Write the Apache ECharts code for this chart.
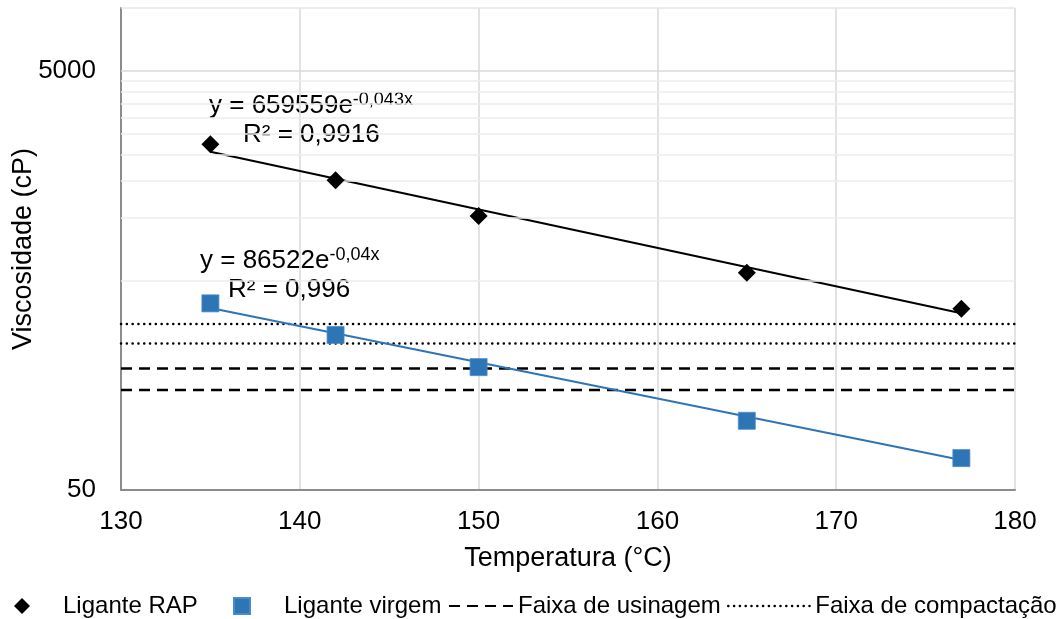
<!DOCTYPE html>
<html>
<head>
<meta charset="utf-8">
<script src="https://cdn.jsdelivr.net/npm/echarts@6/dist/echarts.min.js"></script>
<style>
  html, body { margin: 0; padding: 0; background: #ffffff; }
  #chart { width: 1064px; height: 619px; }
</style>
</head>
<body>
<div id="chart"></div>
<script>
// ---- data ----
const temperatures = [135, 142, 150, 165, 177];
const ligantRAP = [2234, 1504, 1016, 545, 367];
const ligantVirgem = [389, 275, 193, 107, 71];

// exponential trendlines (straight on log axis) - endpoints
const trendX = [135, 177];
const trendRAP = [2060, 349];
const trendVirgem = [370, 69.5];

// horizontal reference bands
const faixaUsinagem = [150, 190];
const faixaCompactacao = [250, 310];
const bandX = [130, 180];

// axis settings / tick labels
const xTicks = [130, 140, 150, 160, 170, 180];
const yLabels = [50, 5000];
const yMajorGrid = [5000];
const yMinorGrid = [500, 1000, 1500, 2000, 2500, 3000, 3500, 4000, 4500];
const yTop = [10000];

const eq1 = { main: 'y = 659559e', sup: '-0,043x', r2: 'R² = 0,9916' };
const eq2 = { main: 'y = 86522e', sup: '-0,04x', r2: 'R² = 0,996' };

const FONT = "'Liberation Sans', Arial, sans-serif";
const BLUE = '#2E75B6';

function pairs(xs, ys) { return xs.map((x, i) => [x, ys[i]]); }

const chart = echarts.init(document.getElementById('chart'), null, { renderer: 'canvas' });

const series = [];

// gridlines helper (drawn through the y scale)
series.push({
  name: '_grid', type: 'line', data: [], z: 0, silent: true,
  markLine: {
    silent: true, symbol: 'none', animation: false, label: { show: false },
    data: [
      ...yMinorGrid.map(v => ({ yAxis: v, lineStyle: { color: '#EDEDED', width: 1.5, type: 'solid' } })),
      ...yMajorGrid.map(v => ({ yAxis: v, lineStyle: { color: '#D9D9D9', width: 1.5, type: 'solid' } })),
      ...yTop.map(v => ({ yAxis: v, lineStyle: { color: '#E6E6E6', width: 1.5, type: 'solid' } }))
    ]
  }
});

// bands
faixaUsinagem.forEach(v => {
  series.push({
    name: 'Faixa de usinagem', type: 'line', symbol: 'none', z: 3,
    data: pairs(bandX, [v, v]),
    itemStyle: { color: 'rgba(0,0,0,0)' },
    lineStyle: { color: '#000', width: 2.5, type: [11, 7] }
  });
});
faixaCompactacao.forEach(v => {
  series.push({
    name: 'Faixa de compactação', type: 'line', symbol: 'none', z: 3,
    data: pairs(bandX, [v, v]),
    itemStyle: { color: 'rgba(0,0,0,0)' },
    lineStyle: { color: '#000', width: 2.5, type: [0.1, 5.7], cap: 'round' }
  });
});

// trendlines
series.push({
  name: '_trendRAP', type: 'line', symbol: 'none', z: 4,
  data: pairs(trendX, trendRAP),
  lineStyle: { color: '#000', width: 2 }
});
series.push({
  name: '_trendVirgem', type: 'line', symbol: 'none', z: 4,
  data: pairs(trendX, trendVirgem),
  lineStyle: { color: BLUE, width: 2 }
});

// points
series.push({
  name: 'Ligante RAP', type: 'scatter', symbol: 'diamond', symbolSize: 18, z: 5,
  data: pairs(temperatures, ligantRAP),
  itemStyle: { color: '#000', opacity: 1 }
});
series.push({
  name: 'Ligante virgem', type: 'scatter', symbol: 'rect', symbolSize: 17, z: 5,
  data: pairs(temperatures, ligantVirgem),
  itemStyle: { color: BLUE, opacity: 1, borderColor: '#4A8ACB', borderWidth: 0.8 }
});

const legendText = { fontSize: 24, color: '#000', fontFamily: FONT };
const legendTop = 594;

const richEq = {
  m: { fontSize: 26, lineHeight: 30, fontFamily: FONT, fill: '#000' },
  s: { fontSize: 18, lineHeight: 18, verticalAlign: 'top', fontFamily: FONT, fill: '#000' }
};

const option = {
  animation: false,
  backgroundColor: '#ffffff',
  textStyle: { fontFamily: FONT },
  grid: { left: 121, right: 49, top: 8, bottom: 129, containLabel: false, outerBoundsMode: 'none' },
  xAxis: {
    type: 'value', min: xTicks[0], max: xTicks[xTicks.length - 1], interval: 10,
    name: 'Temperatura (°C)', nameLocation: 'middle', nameGap: 55, nameMoveOverlap: false,
    nameTextStyle: { fontSize: 27, color: '#000', fontFamily: FONT },
    axisLine: { show: true, lineStyle: { color: '#8C8C8C', width: 2 } },
    axisTick: { show: false },
    axisLabel: { fontSize: 26, color: '#000', margin: 19, fontFamily: FONT },
    splitLine: { show: true, lineStyle: { color: '#D9D9D9', width: 1.5 } }
  },
  yAxis: {
    type: 'log', logBase: 10, min: yLabels[0], max: yTop[0],
    name: 'Viscosidade (cP)', nameLocation: 'middle', nameGap: 84, nameRotate: 90,
    nameMoveOverlap: false,
    nameTextStyle: { fontSize: 27, color: '#000', fontFamily: FONT },
    axisLine: { show: true, lineStyle: { color: '#8C8C8C', width: 2 } },
    axisTick: { show: false },
    axisLabel: {
      fontSize: 26, color: '#000', margin: 25, fontFamily: FONT, customValues: yLabels,
      formatter: v => String(Math.round(v))
    },
    splitLine: { show: false },
    minorSplitLine: { show: false }
  },
  legend: [
    {
      data: [{ name: 'Ligante RAP', icon: 'path://M0,-1L1,0L0,1L-1,0Z' }],
      left: 14, top: legendTop, padding: 0, itemWidth: 72, itemHeight: 16,
      textStyle: legendText, selectedMode: false
    },
    {
      data: [{ name: 'Ligante virgem', icon: 'path://M0,0H1V1H0Z' }],
      left: 233, top: legendTop, padding: 0, itemWidth: 74, itemHeight: 16,
      textStyle: legendText, selectedMode: false
    },
    {
      data: ['Faixa de usinagem'],
      left: 448, top: legendTop, padding: 0, itemWidth: 64, itemHeight: 16,
      itemStyle: { opacity: 0 },
      textStyle: legendText, selectedMode: false
    },
    {
      data: ['Faixa de compactação'],
      left: 727, top: legendTop, padding: 0, itemWidth: 82, itemHeight: 16,
      itemStyle: { opacity: 0 },
      lineStyle: { width: 2.5, cap: 'round', type: [0.1, 5.7] },
      textStyle: legendText, selectedMode: false
    }
  ],
  graphic: [
    {
      type: 'text', left: 209, top: 91, silent: true,
      style: { text: '{m|' + eq1.main + '}{s|' + eq1.sup + '}', rich: richEq }
    },
    {
      type: 'text', left: 243, top: 122, silent: true,
      style: { text: eq1.r2, fontSize: 26, fontFamily: FONT, fill: '#000' }
    },
    {
      type: 'text', left: 200, top: 246, silent: true,
      style: { text: '{m|' + eq2.main + '}{s|' + eq2.sup + '}', rich: richEq }
    },
    {
      type: 'text', left: 228, top: 277, silent: true,
      style: { text: eq2.r2, fontSize: 26, fontFamily: FONT, fill: '#000' }
    }
  ],
  series: series
};

chart.setOption(option);
</script>
</body>
</html>
